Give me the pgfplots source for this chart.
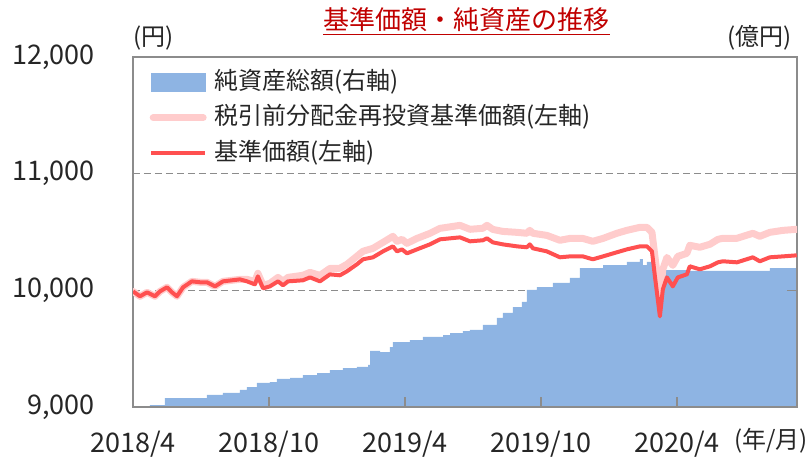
\documentclass[border=0pt]{standalone}
\usepackage{fontspec}
\setmainfont{Noto Sans CJK JP}
\usepackage{pgfplots}
\pgfplotsset{compat=1.18}
\definecolor{areablue}{HTML}{8EB4E3}
\definecolor{pinkline}{HTML}{FFCCCC}
\definecolor{redline}{HTML}{FF5050}
\definecolor{framegray}{HTML}{8C8C8C}
\definecolor{titlered}{HTML}{C00000}
\pgfplotsset{base/.style={scale only axis, width=664bp, height=350bp, xmin=0, xmax=29.3, at={(0,0)}, anchor=south west},
  lineimg/.style={legend image code/.code={\draw[##1] (0bp,0bp) -- (54bp,0bp);}},
  pinkimg/.style={legend image code/.code={\draw[##1] (2bp,0bp) -- (52bp,0bp);}},
  areaimg/.style={legend image code/.code={\fill[areablue] (0bp,-9bp) rectangle (54bp,9bp);}}}
\begin{document}
\begin{tikzpicture}
\path[use as bounding box] (-133bp,-54bp) rectangle (678bp,407bp);
% grid and tick labels (left scale)
\begin{axis}[base, ymin=9000, ymax=12000, scaled y ticks=false,
  ytick={9000,10000,11000,12000},
  yticklabels={{9,000},{10,000},{11,000},{12,000}},
  xtick={0,6,12,18,24},
  xticklabels={2018/4,2018/10,2019/4,2019/10,2020/4},
  ymajorgrids, grid style={framegray, line width=1.5bp, dash pattern=on 7bp off 4bp},
  axis line style={draw=none}, major tick length=0pt,
  ticklabel style={font=\fontsize{27bp}{30bp}\selectfont, text=black!85, inner sep=0pt},
  yticklabel style={anchor=east, xshift=-38bp},
  xticklabel style={anchor=north, yshift=-24bp}]
\addplot[draw=none] coordinates {(0,9000)};
\end{axis}
% net assets (right scale)
\begin{axis}[base, ymin=0, ymax=300, axis on top,
  axis line style={framegray, line width=2bp},
  xtick={6,12,18,24}, ytick={100,200},
  xtick pos=left, ytick pos=right, tick align=inside,
  major tick length=10bp, tick style={framegray, line width=1.5bp},
  xticklabels={}, yticklabels={}]
\addplot[const plot, fill=areablue, draw=none] table {
0.75 1.7
1.41 7.7
3.26 10.3
3.97 12.0
4.72 14.6
5.03 17.1
5.47 20.6
6.04 21.4
6.35 24.0
6.93 24.9
7.50 27.4
8.12 29.1
8.69 31.7
9.26 33.4
9.88 34.3
10.37 36.0
10.46 48.0
10.90 47.1
11.34 51.4
11.47 55.7
12.22 57.4
12.79 60.0
13.68 61.7
13.99 63.4
14.56 65.1
14.87 66.0
15.44 70.3
16.06 76.3
16.32 80.6
16.76 85.7
17.16 90.0
17.38 100.3
17.82 102.8
18.53 106.3
19.28 110.6
19.72 119.1
20.74 121.7
21.79 124.3
22.37 126.8
22.50 121.7
22.68 124.3
23.00 117.4
24.44 116.6
26.34 116.6
28.10 119.1
29.30 118.3
} \closedcycle;
\end{axis}
% NAV lines (left scale)
\begin{axis}[base, ymin=9000, ymax=12000, hide axis,
  legend style={at={(0,1)}, anchor=north west, xshift=16bp, yshift=-13bp,
    draw=none, fill=none, inner sep=0pt, row sep=11.5bp, column sep=7bp,
    font=\fontsize{24bp}{26bp}\selectfont, text=black!85,
    nodes={inner sep=0pt, text height=19bp, text depth=5bp}},
  legend cell align=left]
\addlegendimage{areaimg}
\addlegendentry{純資産総額(右軸)}
\addplot[pinkline, line width=7bp, line join=round, line cap=round, pinkimg] table {
0 9991
0.31 9949
0.62 9983
0.97 9949
1.19 9991
1.50 10026
1.72 9983
1.94 9949
2.21 10026
2.60 10077
2.96 10069
3.26 10069
3.62 10034
3.97 10077
4.72 10094
5.03 10094
5.38 10077
5.51 10146
5.74 10043
6.04 10060
6.40 10111
6.62 10077
6.84 10111
7.50 10129
7.81 10154
8.25 10128
8.69 10188
9.13 10189
9.44 10223
9.88 10292
10.15 10335
10.59 10360
11.03 10411
11.47 10463
11.65 10420
11.87 10437
12.09 10403
12.53 10445
13.10 10488
13.54 10531
14.43 10557
14.87 10523
15.44 10532
15.62 10557
15.88 10522
16.32 10505
16.94 10497
17.38 10489
17.51 10514
17.65 10489
18.26 10471
18.84 10429
19.28 10445
19.85 10445
20.29 10420
20.74 10445
21.35 10489
21.79 10514
22.37 10540
22.68 10540
22.90 10497
23.03 10291
23.25 9948
23.38 10180
23.56 10282
23.82 10214
24.04 10291
24.44 10317
24.57 10386
25.01 10369
25.46 10395
25.81 10437
26.03 10446
26.65 10446
27.35 10489
27.66 10463
28.10 10497
28.68 10514
29.29 10523
};
\addlegendentry{税引前分配金再投資基準価額(左軸)}
\addplot[redline, line width=4bp, line join=round, lineimg] table {
0 9991
0.31 9949
0.62 9983
0.97 9949
1.19 9991
1.50 10026
1.72 9983
1.94 9949
2.21 10026
2.60 10077
2.96 10069
3.26 10069
3.62 10034
3.97 10077
4.72 10094
5.03 10077
5.38 10051
5.51 10120
5.74 10017
6.04 10034
6.40 10077
6.62 10043
6.84 10077
7.50 10086
7.81 10111
8.25 10077
8.69 10137
9.13 10129
9.44 10163
9.88 10223
10.15 10266
10.59 10283
11.03 10334
11.47 10377
11.65 10334
11.87 10351
12.09 10317
12.53 10351
13.10 10394
13.54 10437
14.43 10454
14.87 10420
15.44 10429
15.62 10446
15.88 10411
16.32 10394
16.94 10377
17.38 10369
17.51 10394
17.65 10360
18.26 10334
18.84 10283
19.28 10291
19.85 10291
20.29 10266
20.74 10291
21.35 10326
21.79 10351
22.37 10377
22.68 10377
22.90 10334
23.03 10120
23.25 9777
23.38 10009
23.56 10111
23.82 10034
24.04 10111
24.44 10137
24.57 10206
25.01 10180
25.46 10206
25.81 10240
26.03 10249
26.65 10240
27.35 10283
27.66 10249
28.10 10283
28.68 10291
29.29 10300
};
\addlegendentry{基準価額(左軸)}
\end{axis}
\node[anchor=base, inner sep=0pt, text=titlered, font=\fontsize{26bp}{28bp}\selectfont] (t) at (333.5bp,377bp) {基準価額・純資産の推移};
\draw[titlered, line width=1.5bp] ([yshift=-4.5bp]t.base west) -- ([yshift=-4.5bp]t.base east);
\node[anchor=west, inner sep=0pt, text=black!85, font=\fontsize{24bp}{26bp}\selectfont] at (0bp,369bp) {(円)};
\node[anchor=east, inner sep=0pt, text=black!85, font=\fontsize{24bp}{26bp}\selectfont] at (659bp,369bp) {(億円)};
\node[anchor=east, inner sep=0pt, text=black!85, font=\fontsize{24bp}{26bp}\selectfont] at (675bp,-34bp) {(年/月)};
\end{tikzpicture}
\end{document}
